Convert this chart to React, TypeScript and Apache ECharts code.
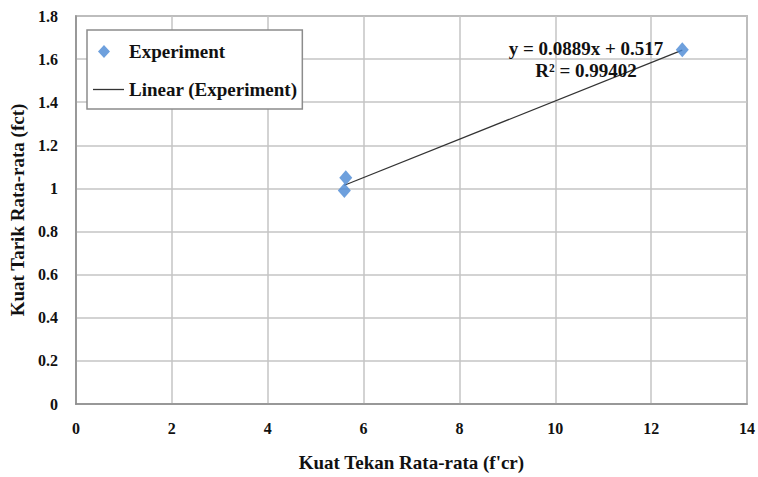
import React, { useEffect, useRef } from "react";
import * as echarts from "echarts";

const experimentX = [5.6, 5.63, 12.65];
const experimentY = [0.99, 1.05, 1.643];
const slope = 0.0889;
const intercept = 0.517;
const equationText = "y = 0.0889x + 0.517";
const r2Text = "R² = 0.99402";
const xAxisTitle = "Kuat Tekan Rata-rata (f'cr)";
const yAxisTitle = "Kuat Tarik Rata-rata (fct)";

const FONT = "Times New Roman, Liberation Serif, DejaVu Serif, serif";

export default function App() {
  const ref = useRef<HTMLDivElement>(null);
  useEffect(() => {
    if (!ref.current) return;
    const chart = echarts.init(ref.current, null, { renderer: "svg" });
    const scatterData = experimentX.map((x, i) => [x, experimentY[i]]);
    const xMin = Math.min(...experimentX);
    const xMax = Math.max(...experimentX);
    const trendData = [
      [xMin, slope * xMin + intercept],
      [xMax, slope * xMax + intercept],
    ];
    chart.setOption({
      animation: false,
      backgroundColor: "#ffffff",
      textStyle: { fontFamily: FONT },
      grid: {
        left: 75,
        right: 10,
        top: 16,
        bottom: 71,
        show: true,
        borderColor: "#8c8c8c",
        borderWidth: 1.5,
        containLabel: false,
      },
      legend: {
        left: 87,
        top: 30,
        orient: "vertical",
        backgroundColor: "#ffffff",
        borderColor: "#8c8c8c",
        borderWidth: 1.5,
        padding: [12, 5, 10, 6],
        itemWidth: 31,
        itemHeight: 13,
        itemGap: 19,
        symbolKeepAspect: true,
        textStyle: { fontFamily: FONT, fontWeight: "bold", fontSize: 19, color: "#111" },
        data: [
          {
            name: "Experiment",
            icon: "path://M11,0 L17,6.5 L11,13 L5,6.5 Z M0,6.5 L0.01,6.5 L0,6.51 Z M31,6.5 L31.01,6.5 L31,6.51 Z",
            itemStyle: { color: "#4a88d4" },
          },
          {
            name: "Linear (Experiment)",
            icon: "path://M0,0 L31,0 L31,1.3 L0,1.3 Z",
            itemStyle: { color: "#333333" },
          },
        ],
      },
      xAxis: {
        type: "value",
        min: 0,
        max: 14,
        interval: 2,
        name: xAxisTitle,
        nameLocation: "middle",
        nameGap: 49,
        nameTextStyle: { fontFamily: FONT, fontWeight: "bold", fontSize: 19, color: "#111" },
        axisLine: { show: true, lineStyle: { color: "#8c8c8c", width: 1.5 } },
        axisTick: { show: false },
        axisLabel: { fontFamily: FONT, fontWeight: "bold", fontSize: 16, color: "#111", margin: 16 },
        splitLine: { show: true, lineStyle: { color: "#c4c4c4", width: 1.5 } },
      },
      yAxis: {
        type: "value",
        min: 0,
        max: 1.8,
        interval: 0.2,
        name: yAxisTitle,
        nameLocation: "middle",
        nameGap: 45,
        nameTextStyle: { fontFamily: FONT, fontWeight: "bold", fontSize: 19, color: "#111" },
        axisLine: { show: true, lineStyle: { color: "#8c8c8c", width: 1.5 } },
        axisTick: { show: false },
        axisLabel: {
          fontFamily: FONT,
          fontWeight: "bold",
          fontSize: 16,
          color: "#111",
          margin: 18,
          formatter: (v: number) => String(+v.toFixed(1)),
        },
        splitLine: { show: true, lineStyle: { color: "#c4c4c4", width: 1.5 } },
      },
      series: [
        {
          name: "Linear (Experiment)",
          type: "line",
          data: trendData,
          showSymbol: false,
          symbol: "none",
          lineStyle: { color: "#333333", width: 1.2 },
          itemStyle: { color: "#333333" },
          z: 2,
        },
        {
          name: "Experiment",
          type: "scatter",
          data: scatterData,
          symbol: "diamond",
          symbolSize: [13, 15],
          itemStyle: { color: "#4a88d4" },
          z: 3,
        },
      ],
      graphic: [
        {
          type: "text",
          x: 586,
          y: 48,
          style: {
            text: equationText,
            font: `bold 19px ${FONT}`,
            fill: "#111",
            align: "center",
            verticalAlign: "middle",
          },
          z: 10,
        },
        {
          type: "text",
          x: 586,
          y: 70,
          style: {
            text: r2Text,
            font: `bold 19px ${FONT}`,
            fill: "#111",
            align: "center",
            verticalAlign: "middle",
          },
          z: 10,
        },
      ],
    });
    return () => chart.dispose();
  }, []);
  return (
    <div
      ref={ref}
      style={{ position: "absolute", left: 0, top: 0, width: 758, height: 477 }}
    />
  );
}
